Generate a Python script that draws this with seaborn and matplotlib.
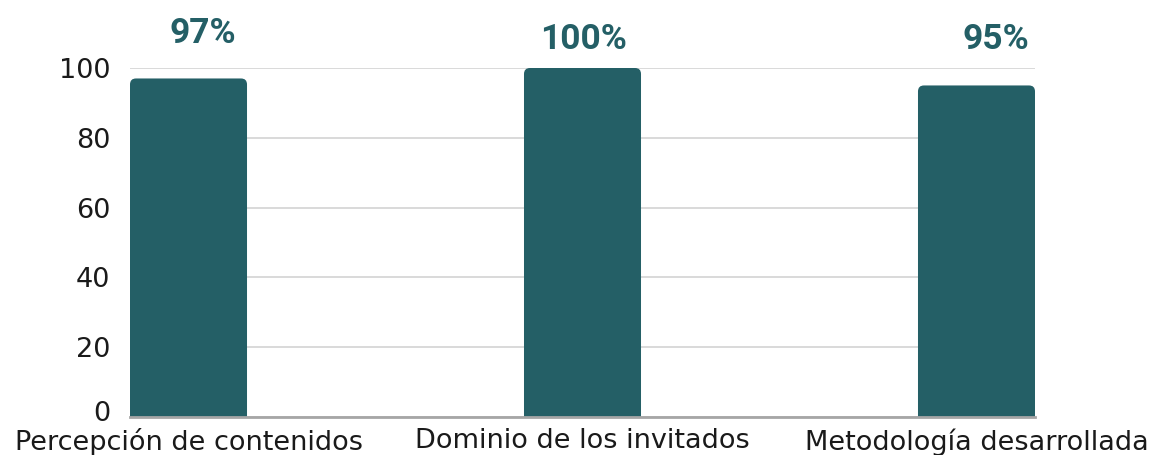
import matplotlib
matplotlib.use("Agg")
import matplotlib.pyplot as plt
import matplotlib.transforms as mtransforms
from matplotlib.patches import FancyBboxPatch
import seaborn as sns
import pandas as pd

categories = ["Percepción de contenidos", "Dominio de los invitados", "Metodología desarrollada"]
values = [97, 100, 95]
labels = ["97%", "100%", "95%"]
yticks = [0, 20, 40, 60, 80, 100]

BAR = "#245F66"

sns.set_theme(style="white")
plt.rcParams['font.family'] = ['DejaVu Sans']

fig = plt.figure(figsize=(11.53, 4.55), dpi=100)
W, H = 1153, 455
ax = fig.add_axes([130 / W, (455 - 417) / H, (1035 - 130) / W, (417 - 68) / H])

df = pd.DataFrame({"cat": categories, "val": values})
bw = 0.297
sns.barplot(data=df, x="cat", y="val", color=BAR, width=bw, ax=ax, saturation=1)

ax.set_ylim(0, 100)
ax.set_xlim(-bw / 2, len(categories) - 1 + bw / 2)

# rounded tops
fig.canvas.draw()
px_x = ax.transData.transform((1, 0))[0] - ax.transData.transform((0, 0))[0]
px_y = ax.transData.transform((0, 1))[1] - ax.transData.transform((0, 0))[1]
r_px = 6
rx = r_px / px_x
ry = r_px / px_y
for p in list(ax.patches):
    x, w, h = p.get_x(), p.get_width(), p.get_height()
    p.remove()
    fb = FancyBboxPatch((x, -ry * 2), w, h + ry * 2,
                        boxstyle=f"round,pad=0,rounding_size={rx}",
                        mutation_aspect=ry / rx, facecolor=BAR, edgecolor="none",
                        zorder=2)
    ax.add_patch(fb)

ax.set_yticks(yticks)
ax.grid(axis="y", color="#d3d3d3", linewidth=1.2, zorder=0)
ax.set_axisbelow(True)
for s in ["top", "right", "left"]:
    ax.spines[s].set_visible(False)
ax.spines["bottom"].set_color("#a6a6a6")
ax.spines["bottom"].set_linewidth(2)
ax.spines["bottom"].set_zorder(3)
ax.tick_params(axis="both", length=0, labelsize=19.5, colors="#1a1a1a")
ax.tick_params(axis="y", pad=14)
ax.tick_params(axis="x", pad=8)
for t in ax.get_yticklabels():
    t.set_verticalalignment("center_baseline")
# nudge the "0" label slightly up so it does not collide with the category label
zero_lab = ax.yaxis.get_major_ticks()[0].label1
zero_lab.set_transform(zero_lab.get_transform() +
                       mtransforms.ScaledTranslation(0, 4 / 72, fig.dpi_scale_trans))
ax.set_xlabel("")
ax.set_ylabel("")

# value labels (offsets as in reference)
offs = [(0.037, 109.8), (0.003, 108.1), (0.05, 108.1)]
for i, (lab, (dx, yy)) in enumerate(zip(labels, offs)):
    ax.text(i + dx, yy, lab, ha="center", va="center", fontsize=25.5,
            fontweight="bold", color=BAR, family=["Roboto", "DejaVu Sans"],
            clip_on=False)

fig.savefig("out.png", dpi=100)
